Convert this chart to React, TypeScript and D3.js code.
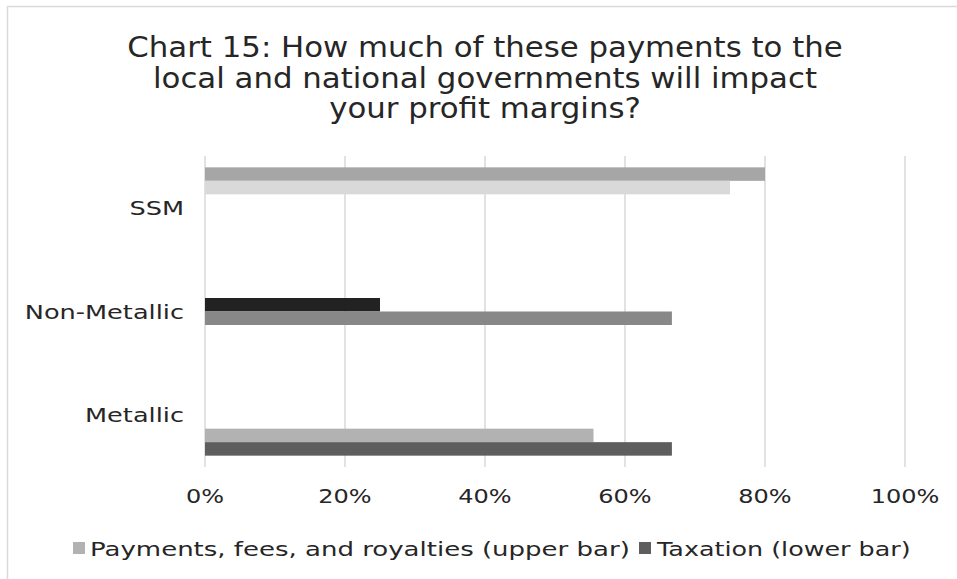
import React from "react";
import * as d3 from "d3";

const categories = ["SSM", "Non-Metallic", "Metallic"];
const payments = [0.8, 0.25, 0.555];
const taxation = [0.75, 0.667, 0.667];
const xTicks = [0, 0.2, 0.4, 0.6, 0.8, 1.0];
const titleLines = [
  "Chart 15: How much of these payments to the",
  "local and national governments will impact",
  "your profit margins?",
];
const legendItems = ["Payments, fees, and royalties (upper bar)", "Taxation (lower bar)"];

const paymentColors = ["#a6a6a6", "#222222", "#b2b2b2"];
const taxationColors = ["#d9d9d9", "#888888", "#5e5e5e"];
const legendColors = ["#b2b2b2", "#5e5e5e"];

const W = 957;
const H = 579;
const FONT = "'DejaVu Sans', sans-serif";
const TEXT = "#262626";

function SText({
  x,
  y,
  s,
  size,
  anchor = "start",
  children,
}: {
  x: number;
  y: number;
  s: number;
  size: number;
  anchor?: string;
  children: React.ReactNode;
}) {
  return (
    <text
      transform={`translate(${x},${y}) scale(${s},1)`}
      textAnchor={anchor}
      fontSize={size}
      fill={TEXT}
    >
      {children}
    </text>
  );
}

export default function App() {
  const x = d3.scaleLinear().domain([0, 1]).range([205, 905]);
  const y = d3.scaleBand<string>().domain(categories).range([156, 467]).padding(0);
  const slot = d3
    .scaleBand<number>()
    .domain(d3.range(categories.length * 2))
    .range([0, y.bandwidth()])
    .paddingInner(0)
    .paddingOuter(0.84);
  const fmt = d3.format(".0%");

  return (
    <svg
      width={W}
      height={H}
      style={{ position: "absolute", left: 0, top: 0, background: "#fff" }}
      fontFamily={FONT}
    >
      <rect x={7.5} y={6.5} width={W + 10} height={H + 10} fill="#fff" stroke="#d9d9d9" strokeWidth={1.5} />
      {titleLines.map((t, i) => (
        <SText key={i} x={485} y={57 + i * 30.5} s={1.1} size={28} anchor="middle">
          {t}
        </SText>
      ))}
      {xTicks.map((t) => (
        <line key={t} x1={x(t)} x2={x(t)} y1={156} y2={467} stroke="#d9d9d9" strokeWidth={1.5} />
      ))}
      {categories.map((c, i) => (
        <g key={c}>
          <rect
            x={x(0)}
            y={y(c)! + slot(2 * i)!}
            width={x(payments[i]) - x(0)}
            height={slot.bandwidth()}
            fill={paymentColors[i]}
          />
          <rect
            x={x(0)}
            y={y(c)! + slot(2 * i + 1)!}
            width={x(taxation[i]) - x(0)}
            height={slot.bandwidth()}
            fill={taxationColors[i]}
          />
          <SText x={184} y={y(c)! + y.bandwidth() / 2 + 7} s={1.28} size={20} anchor="end">
            {c}
          </SText>
        </g>
      ))}
      {xTicks.map((t) => (
        <SText key={t} x={x(t)} y={503} s={1.2} size={20} anchor="middle">
          {fmt(t)}
        </SText>
      ))}
      <g>
        <rect x={73} y={542} width={12} height={12} fill={legendColors[0]} />
        <SText x={90} y={556} s={1.3} size={20}>
          {legendItems[0]}
        </SText>
        <rect x={639} y={542} width={12} height={12} fill={legendColors[1]} />
        <SText x={657} y={556} s={1.27} size={20}>
          {legendItems[1]}
        </SText>
      </g>
    </svg>
  );
}
